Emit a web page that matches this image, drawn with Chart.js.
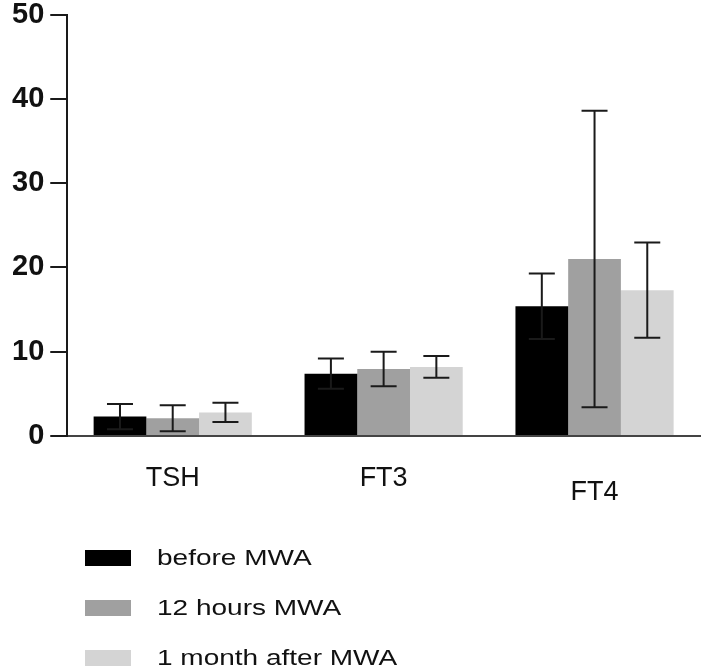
<!DOCTYPE html>
<html>
<head>
<meta charset="utf-8">
<script src="https://cdn.jsdelivr.net/npm/chart.js@4/dist/chart.umd.min.js"></script>
<style>
  html, body { margin: 0; padding: 0; background: #fff; }
  #wrap { position: relative; width: 709px; height: 672px; }
  #c { position: absolute; left: 0; top: 0; }
  #legend { position: absolute; left: 85px; top: 533px; font-family: "Liberation Sans", Arial, sans-serif; }
  .item { display: flex; align-items: center; height: 50px; }
  .box { width: 46px; height: 16px; margin-right: 26px; }
  .txt { font-size: 28px; color: #111; transform: scaleY(0.82); transform-origin: left center; white-space: nowrap; }
</style>
</head>
<body>
<div id="wrap">
  <canvas id="c" width="709" height="672"></canvas>
  <div id="legend"></div>
</div>
<script>
const categories = ['TSH', 'FT3', ['', 'FT4']];
const seriesNames = ['before MWA', '12 hours MWA', '1 month after MWA'];
const beforeMWA = [2.3, 7.4, 15.4];
const beforeMWAErr = [1.5, 1.8, 3.9];
const hours12MWA = [2.1, 7.95, 21.0];
const hours12MWAErr = [1.55, 2.05, 17.6];
const month1MWA = [2.8, 8.2, 17.3];
const month1MWAErr = [1.15, 1.3, 5.65];
const yTicks = [0, 10, 20, 30, 40, 50];
const colors = ['#000000', '#a0a0a0', '#d4d4d4'];

const errors = [beforeMWAErr, hours12MWAErr, month1MWAErr];

const errorBars = {
  id: 'errorBars',
  afterDatasetsDraw(chart) {
    const ctx = chart.ctx;
    const y = chart.scales.y;
    ctx.save();
    ctx.strokeStyle = '#1a1a1a';
    ctx.lineWidth = 2;
    chart.data.datasets.forEach((ds, i) => {
      const meta = chart.getDatasetMeta(i);
      meta.data.forEach((bar, j) => {
        const v = ds.data[j], e = errors[i][j];
        const top = y.getPixelForValue(v + e);
        const bot = y.getPixelForValue(v - e);
        const half = 13;
        ctx.beginPath();
        ctx.moveTo(bar.x, top); ctx.lineTo(bar.x, bot);
        ctx.moveTo(bar.x - half, top); ctx.lineTo(bar.x + half, top);
        ctx.moveTo(bar.x - half, bot); ctx.lineTo(bar.x + half, bot);
        ctx.stroke();
      });
    });
    ctx.restore();
  }
};

const chart = new Chart(document.getElementById('c'), {
  type: 'bar',
  data: {
    labels: categories,
    datasets: [
      { label: seriesNames[0], data: beforeMWA, backgroundColor: colors[0] },
      { label: seriesNames[1], data: hours12MWA, backgroundColor: colors[1] },
      { label: seriesNames[2], data: month1MWA, backgroundColor: colors[2] }
    ]
  },
  options: {
    responsive: false,
    animation: false,
    layout: { padding: { left: 6, right: 9, top: 0, bottom: 156 } },
    categoryPercentage: 0.75,
    barPercentage: 1.0,
    plugins: { legend: { display: false }, tooltip: { enabled: false } },
    scales: {
      x: {
        afterFit(scale) { scale.height = 80; },
        grid: { display: false, drawTicks: false },
        border: { display: true, color: '#444', width: 2 },
        ticks: {
          color: '#111',
          padding: 36,
          font: { family: '"Liberation Sans", Arial, sans-serif', size: 27, lineHeight: 0.5 }
        }
      },
      y: {
        min: 0, max: 50,
        afterBuildTicks(axis) { axis.ticks = yTicks.map(v => ({ value: v })); },
        grid: { drawOnChartArea: false, drawTicks: true, tickLength: 17, color: '#1a1a1a', lineWidth: 2 },
        border: { display: true, color: '#1a1a1a', width: 2 },
        ticks: {
          color: '#111',
          padding: 6,
          font: { family: '"Liberation Sans", Arial, sans-serif', size: 29, weight: 'bold', lineHeight: 0.6 }
        }
      }
    }
  },
  plugins: [errorBars]
});

const legend = document.getElementById('legend');
chart.data.datasets.forEach(ds => {
  const item = document.createElement('div');
  item.className = 'item';
  const box = document.createElement('span');
  box.className = 'box';
  box.style.background = ds.backgroundColor;
  const txt = document.createElement('span');
  txt.className = 'txt';
  txt.textContent = ds.label;
  item.appendChild(box); item.appendChild(txt);
  legend.appendChild(item);
});
</script>
</body>
</html>
